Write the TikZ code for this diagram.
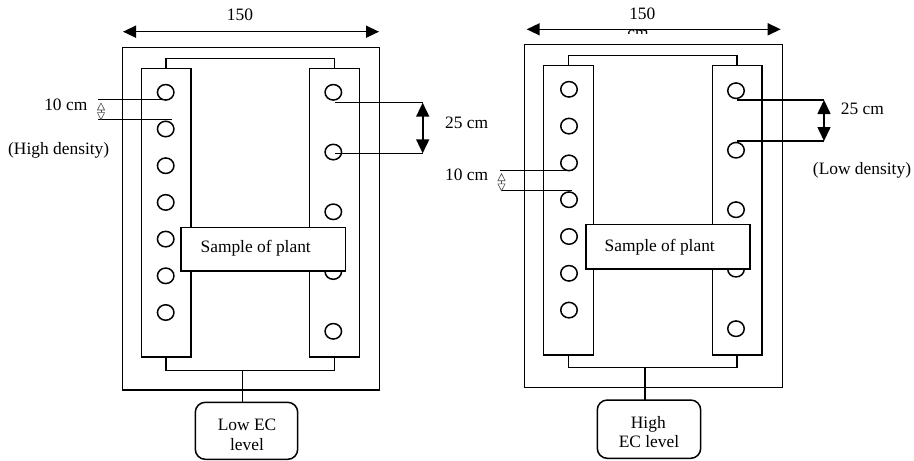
\documentclass[tikz,border=0pt]{standalone}
\usepackage{fontspec}
\setmainfont{Liberation Serif}
\usetikzlibrary{arrows.meta,shapes.geometric}
\begin{document}
\begin{tikzpicture}[x=1pt,y=-1pt,
  ln/.style={line width=1.5pt},
  frame/.style={draw,line width=1.5pt,inner sep=0pt,outer sep=0pt},
  planbox/.style={frame,fill=white},
  ecbox/.style={frame,rounded corners=10pt},
  hole/.style={draw,ellipse,line width=1.5pt,minimum width=16.5pt,minimum height=15.5pt,inner sep=0pt,outer sep=0pt},
  lbl/.style={font=\fontsize{17.4}{20}\selectfont,inner sep=0pt,anchor=base},
  widthdim/.style={line width=1.5pt,{Triangle[length=13pt,width=12pt]}-{Triangle[length=13pt,width=12pt]}},
  bigdim/.style={line width=1.6pt,{Triangle[length=14pt,width=13pt]}-{Triangle[length=14pt,width=13pt]}},
  smalldim/.style={line width=0.6pt,draw=black!70,{Triangle[open,length=8pt,width=8pt]}-{Triangle[open,length=8pt,width=8pt]}}
]
\useasboundingbox (0,0) rectangle (914,461);

%%%%%%%%%%%%%%%% LEFT DIAGRAM %%%%%%%%%%%%%%%%
\node[frame,minimum width=257pt,minimum height=342.3pt] (outerA) at (250.8,218.85) {};
\node[frame,minimum width=49.7pt,minimum height=288.7pt] (lstripA) at (166.15,212.65) {};
\node[frame,minimum width=49.6pt,minimum height=288.7pt] (rstripA) at (334.5,212.65) {};
% brackets
\draw[ln] (lstripA.north) -- ++(0,-10) -| (rstripA.north);
\draw[ln] (lstripA.south) -- ++(0,13.3) -| (rstripA.south);
\coordinate (busA) at (242.3,370.3);
% holes
\foreach \i in {0,...,6} {
  \node[hole] (LA\i) at (165.7,92.3+36.7*\i) {};
}
\foreach \i in {0,...,4} {
  \node[hole] (RA\i) at (333.3,92.3+59.75*\i) {};
}
% sample box
\node[planbox,minimum width=164.3pt,minimum height=43.7pt] (sampleA) at (263.15,249.15) {};
\node[lbl] (sampleAt) at (255.7,252.2) {Sample of plant};
% EC box
\node[ecbox,minimum width=102.4pt,minimum height=57pt] (ecA) at (246.5,430.8) {};
\draw[ln] (busA) -- (busA |- ecA.north);
\node[lbl] (ecAt1) at (247,430.5) {Low EC};
\node[lbl] (ecAt2) at (247,450.5) {level};
% width dimension
\coordinate (wA1) at (123,31.7);
\coordinate (wA2) at (379,31.7);
\draw[widthdim] (wA1) -- (wA2);
\node[lbl] (wAt) at (240,20.7) {150};
% 10 cm
\coordinate (tA1) at (98.3,99.3);
\coordinate (tA2) at (98.3,119.3);
\draw[ln] (tA1) -- (168.3,99.3);
\draw[ln] (tA2) -- (171.7,119.3);
\draw[smalldim] (101,102.3) -- (101,120.3);
\node[lbl] (tAt) at (65.8,110) {10 cm};
\node[lbl] (hdA) at (58.7,154.5) {(High density)};
% 25 cm
\coordinate (qA1) at (422.7,102.7);
\coordinate (qA2) at (422.7,153.3);
\draw[ln] (335,102.7) -- (qA1);
\draw[ln] (335,153.3) -- (qA2);
\draw[bigdim] (qA1) -- (qA2);
\node[lbl,anchor=base west] (qAt) at (445,128) {25 cm};

%%%%%%%%%%%%%%%% RIGHT DIAGRAM %%%%%%%%%%%%%%%%
\node[frame,minimum width=257.6pt,minimum height=343.4pt] (outerB) at (653.5,216) {};
\node[frame,minimum width=50pt,minimum height=289.7pt] (lstripB) at (568.3,210.15) {};
\node[frame,minimum width=49.7pt,minimum height=289.7pt] (rstripB) at (737.15,210.15) {};
\draw[ln] (lstripB.north) -- ++(0,-10) -| (rstripB.north);
\draw[ln] (lstripB.south) -- ++(0,12.3) -| (rstripB.south);
\coordinate (busB) at (645,367.3);
\foreach \i in {0,...,6} {
  \node[hole] (LB\i) at (569,89.3+36.8*\i) {};
}
\foreach \i in {0,...,4} {
  \node[hole] (RB\i) at (736,90.7+59.5*\i) {};
}
\node[planbox,minimum width=164pt,minimum height=44.3pt] (sampleB) at (668,246.85) {};
\node[lbl] (sampleBt) at (659.7,251.5) {Sample of plant};
\node[ecbox,minimum width=103.4pt,minimum height=58.3pt] (ecB) at (649,429.15) {};
\draw[ln] (busB) -- (busB |- ecB.north);
\node[lbl] (ecBt1) at (648.3,428.2) {High};
\node[lbl] (ecBt2) at (649,447.5) {EC level};
% width dimension
\coordinate (wB1) at (526.7,29.3);
\coordinate (wB2) at (780.7,29.3);
\node[lbl] (wBt) at (642.3,19) {150};
\begin{scope}
  \clip (610,29.3) rectangle (670,33.6);
  \node[lbl] (wBcm) at (638,38.3) {cm};
\end{scope}
\draw[widthdim] (wB1) -- (wB2);
% 10 cm
\coordinate (tB1) at (500,170.5);
\coordinate (tB2) at (501.7,190.5);
\draw[ln] (tB1) -- (568.5,170.5);
\draw[ln] (tB2) -- (572,190.5);
\draw[smalldim] (501.5,173) -- (501.5,191.5);
\node[lbl,anchor=base west] (tBt) at (445,180) {10 cm};
% 25 cm
\coordinate (qB1) at (824,100);
\coordinate (qB2) at (824,141);
\draw[ln] (737.3,100) -- (qB1);
\draw[ln] (737.3,141) -- (qB2);
\draw[bigdim] (qB1) -- (qB2);
\node[lbl] (qBt) at (862.3,114.5) {25 cm};
\node[lbl] (ldB) at (862,174.8) {(Low density)};
\end{tikzpicture}
\end{document}
